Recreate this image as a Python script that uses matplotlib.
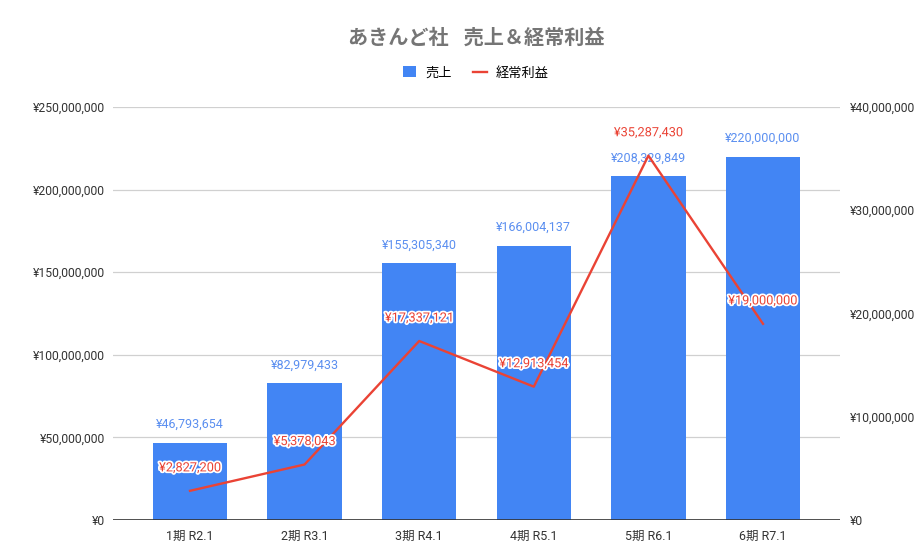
import matplotlib.pyplot as plt
import matplotlib.patheffects as pe
from matplotlib.ticker import FuncFormatter, MultipleLocator
import numpy as np

plt.rcParams['font.family'] = ['Roboto', 'Noto Sans CJK JP', 'DejaVu Sans']

# data
periods = ['1期 R2.1', '2期 R3.1', '3期 R4.1', '4期 R5.1', '5期 R6.1', '6期 R7.1']
sales = [46793654, 82979433, 155305340, 166004137, 208329849, 220000000]
profit = [2827200, 5378043, 17337121, 12913454, 35287430, 19000000]

blue = '#4285f4'
red = '#ea4335'
yen = FuncFormatter(lambda v, p: '¥{:,.0f}'.format(v))

fig = plt.figure(figsize=(9.2, 5.5), dpi=100)
ax = fig.add_axes([113 / 920, 30 / 550, 727 / 920, 413 / 550])
ax2 = ax.twinx()

x = np.arange(len(periods))
bars = ax.bar(x, sales, width=0.65, color=blue, zorder=2, label='売上')
ax.set_xlim(-0.672, 5.672)
ax.set_ylim(0, 250000000)
ax.yaxis.set_major_locator(MultipleLocator(50000000))
ax.yaxis.set_major_formatter(yen)
ax.grid(axis='y', color='#d0d0d0', linewidth=0.9, zorder=0)
ax.set_axisbelow(True)
ax.set_xticks(x)
ax.set_xticklabels(periods)

ax2.plot(x, profit, color=red, linewidth=1.7, zorder=3, label='経常利益')
ax2.set_ylim(0, 40000000)
ax2.yaxis.set_major_locator(MultipleLocator(10000000))
ax2.yaxis.set_major_formatter(yen)

for a in (ax, ax2):
    for s in a.spines.values():
        s.set_visible(False)
    a.tick_params(length=0, labelsize=8.7, labelcolor='#333333')
ax.tick_params(axis='y', pad=6)
ax2.tick_params(axis='y', pad=7)
ax.tick_params(axis='x', pad=7, labelsize=9)
ax.axhline(0, color='#333333', linewidth=1.2, zorder=4)

# labels
for xi, v in zip(x, sales):
    ax.annotate('¥{:,}'.format(v), (xi, v), xytext=(0, 13), textcoords='offset points',
                ha='center', va='center', fontsize=9, color='#5b8ff0', zorder=5)
for xi, v in zip(x, profit):
    ax2.annotate('¥{:,}'.format(v), (xi, v), xytext=(0, 16.5), textcoords='offset points',
                 ha='center', va='center', fontsize=9.2, color=red, zorder=6,
                 path_effects=[pe.withStroke(linewidth=2.5, foreground='white')])

cx = 476 / 920
fig.text(cx, 1 - 38 / 550, 'あきんど社   売上＆経常利益', ha='center', va='center',
         fontsize=14.5, fontweight='bold', color='#757575')

h1, l1 = ax.get_legend_handles_labels()
h2, l2 = ax2.get_legend_handles_labels()
fig.legend(h1 + h2, l1 + l2, loc='center', bbox_to_anchor=(cx, 1 - 73 / 550), ncol=2,
           frameon=False, fontsize=9.5, handlelength=1.0, handleheight=0.9,
           columnspacing=1.6, handletextpad=0.7)

fig.savefig('out.png', dpi=100)
